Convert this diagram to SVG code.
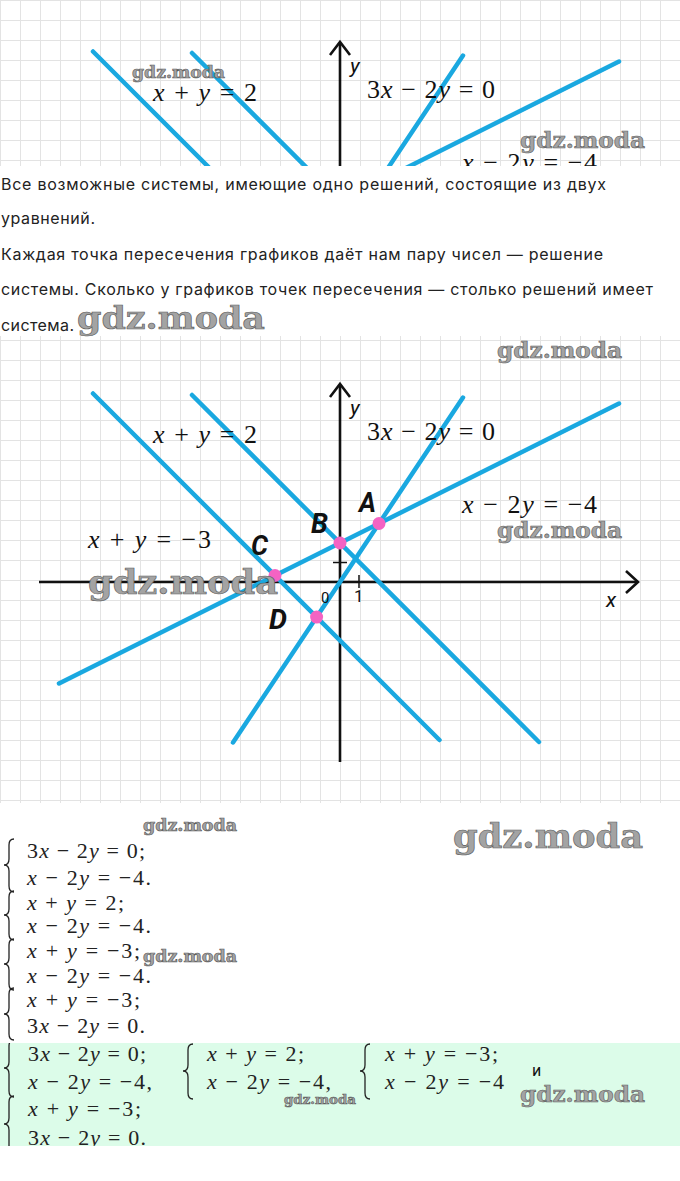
<svg xmlns="http://www.w3.org/2000/svg" xmlns:xlink="http://www.w3.org/1999/xlink" width="680" height="1181" viewBox="0 0 680 1181">
<style>
.ln{stroke:#1aa8e0;stroke-width:4.5;stroke-linecap:round;fill:none}
.ax{stroke:#111;stroke-width:2.6;fill:none}
.tk{stroke:#111;stroke-width:1.5}
.pt{fill:#f463c3}
.m{font-family:"Liberation Serif",serif;font-size:26px;fill:#111}
.e{font-family:"Liberation Serif",serif;font-size:22px;fill:#222}
.i{font-style:italic}
.pl{font-family:Roboto,"Liberation Sans",sans-serif;font-weight:700;font-style:italic;font-size:27px;fill:#111}
.al{font-family:Roboto,"Liberation Sans",sans-serif;fill:#111}
.p{font-family:Inter,Roboto,"Noto Sans",sans-serif;font-size:16px;fill:#222}
.wm{font-family:"DejaVu Serif",serif;font-weight:bold;fill:#a3a3a3;stroke:#5a5a5a;stroke-width:0.6}
.br{fill:none;stroke:#222;stroke-width:1.3}
</style>
<defs>
<pattern id="grid" width="20" height="20" patternUnits="userSpaceOnUse" x="0" y="0">
<path d="M0 0.5H20M0.5 0V20" stroke="#e3e3e3" stroke-width="1" fill="none"/>
</pattern>
<clipPath id="topclip"><rect x="0" y="0" width="680" height="166"/></clipPath>
<clipPath id="greenclip"><rect x="0" y="1043" width="680" height="103"/></clipPath>
<g id="plot">
<g class="ax">
<line x1="340" y1="762" x2="340" y2="385"/>
<polyline points="330,397 340,384 350,397"/>
<line x1="39" y1="582" x2="637" y2="582"/>
<polyline points="626,571 638,582 626,593"/>
</g>
<line class="tk" x1="359" y1="575" x2="359" y2="588"/>
<line class="tk" x1="333" y1="562.5" x2="347" y2="562.5"/>
<g class="ln">
<line x1="93" y1="393.5" x2="439.5" y2="740"/>
<line x1="192" y1="395" x2="539" y2="742"/>
<line x1="463" y1="397.5" x2="233" y2="742.5"/>
<line x1="619" y1="403.5" x2="59" y2="683.5"/>
</g>
<text class="m" x="153" y="443" textLength="104"><tspan class="i">x</tspan> + <tspan class="i">y</tspan> = 2</text>
<text class="m" x="88" y="548" textLength="123"><tspan class="i">x</tspan> + <tspan class="i">y</tspan> = −3</text>
<text class="m" x="367" y="440" textLength="128">3<tspan class="i">x</tspan> − 2<tspan class="i">y</tspan> = 0</text>
<text class="m" x="462" y="513" textLength="135"><tspan class="i">x</tspan> − 2<tspan class="i">y</tspan> = −4</text>
<text class="al i" x="350" y="415" font-size="21">y</text>
<text class="al i" x="606" y="607" font-size="21">x</text>
<text class="al" x="321" y="603" font-size="15">0</text>
<text class="al" x="354" y="602" font-size="17">1</text>
</g>
</defs>

<rect x="0" y="0" width="680" height="1181" fill="#fff"/>

<g id="top-graph" clip-path="url(#topclip)">
<rect x="0" y="0" width="680" height="166" fill="url(#grid)"/>
<use xlink:href="#plot" href="#plot" transform="translate(0,-342)"/>
</g>

<g id="paragraph">
<text class="p" x="1" y="190" textLength="605">Все возможные системы, имеющие одно решений, состоящие из двух</text>
<text class="p" x="1" y="224" textLength="94">уравнений.</text>
<text class="p" x="1" y="260" textLength="602">Каждая точка пересечения графиков даёт нам пару чисел — решение</text>
<text class="p" x="1" y="295" textLength="652">системы. Сколько у графиков точек пересечения — столько решений имеет</text>
<text class="p" x="1" y="331" textLength="73">система.</text>
</g>

<g id="main-graph">
<rect x="0" y="336" width="680" height="467" fill="url(#grid)"/>
<use xlink:href="#plot" href="#plot"/>
<g id="points">
<circle class="pt" cx="379" cy="523.5" r="6.5"/>
<circle class="pt" cx="340" cy="543" r="6.5"/>
<circle class="pt" cx="275" cy="575.5" r="6.5"/>
<circle class="pt" cx="316.6" cy="617.1" r="6.5"/>
</g>
<text class="pl" x="359" y="512" textLength="17" lengthAdjust="spacingAndGlyphs">A</text>
<text class="pl" x="311" y="533" textLength="17" lengthAdjust="spacingAndGlyphs">B</text>
<text class="pl" x="251" y="555" textLength="17" lengthAdjust="spacingAndGlyphs">C</text>
<text class="pl" x="269" y="629" textLength="18" lengthAdjust="spacingAndGlyphs">D</text>
</g>

<g id="systems">
<text class="e" x="27" y="858" textLength="118"><tspan>3</tspan><tspan class="i">x</tspan> − 2<tspan class="i">y</tspan> = 0;</text>
<text class="e" x="27" y="885" textLength="124"><tspan class="i">x</tspan> − 2<tspan class="i">y</tspan> = −4.</text>
<text class="e" x="27" y="910" textLength="97"><tspan class="i">x</tspan> + <tspan class="i">y</tspan> = 2;</text>
<text class="e" x="27" y="933" textLength="124"><tspan class="i">x</tspan> − 2<tspan class="i">y</tspan> = −4.</text>
<text class="e" x="27" y="958" textLength="113"><tspan class="i">x</tspan> + <tspan class="i">y</tspan> = −3;</text>
<text class="e" x="27" y="983" textLength="124"><tspan class="i">x</tspan> − 2<tspan class="i">y</tspan> = −4.</text>
<text class="e" x="27" y="1007" textLength="113"><tspan class="i">x</tspan> + <tspan class="i">y</tspan> = −3;</text>
<text class="e" x="27" y="1033" textLength="118">3<tspan class="i">x</tspan> − 2<tspan class="i">y</tspan> = 0.</text>
<path class="br" d="M14,839 Q9,839 9,845 L9,859 Q9,865 4,865 Q9,865 9,871 L9,886 Q9,892 14,892"/>
<path class="br" d="M14,891 Q9,891 9,897 L9,909 Q9,915 4,915 Q9,915 9,921 L9,934 Q9,940 14,940"/>
<path class="br" d="M14,939 Q9,939 9,945 L9,958 Q9,964 4,964 Q9,964 9,970 L9,984 Q9,990 14,990"/>
<path class="br" d="M14,988 Q9,988 9,994 L9,1008 Q9,1014 4,1014 Q9,1014 9,1020 L9,1034 Q9,1040 14,1040"/>
</g>

<g id="answer">
<rect x="0" y="1043" width="680" height="103" fill="#dcfce9"/>
<g clip-path="url(#greenclip)">
<text class="e" x="28" y="1061" textLength="118">3<tspan class="i">x</tspan> − 2<tspan class="i">y</tspan> = 0;</text>
<text class="e" x="28" y="1089" textLength="124"><tspan class="i">x</tspan> − 2<tspan class="i">y</tspan> = −4,</text>
<text class="e" x="28" y="1116" textLength="113"><tspan class="i">x</tspan> + <tspan class="i">y</tspan> = −3;</text>
<text class="e" x="28" y="1145" textLength="118">3<tspan class="i">x</tspan> − 2<tspan class="i">y</tspan> = 0.</text>
<path class="br" d="M14,1040 Q9,1040 9,1046 L9,1062 Q9,1068 4,1068 Q9,1068 9,1074 L9,1091 Q9,1097 14,1097"/>
<path class="br" d="M14,1096 Q9,1096 9,1102 L9,1118 Q9,1124 4,1124 Q9,1124 9,1130 L9,1146 Q9,1152 14,1152"/>
</g>
<text class="e" x="207" y="1061" textLength="97"><tspan class="i">x</tspan> + <tspan class="i">y</tspan> = 2;</text>
<text class="e" x="207" y="1089" textLength="124"><tspan class="i">x</tspan> − 2<tspan class="i">y</tspan> = −4,</text>
<path class="br" d="M193,1044 Q188,1044 188,1050 L188,1065 Q188,1071 183,1071 Q188,1071 188,1077 L188,1093 Q188,1099 193,1099"/>
<text class="e" x="385" y="1061" textLength="113"><tspan class="i">x</tspan> + <tspan class="i">y</tspan> = −3;</text>
<text class="e" x="385" y="1089" textLength="119"><tspan class="i">x</tspan> − 2<tspan class="i">y</tspan> = −4</text>
<path class="br" d="M370,1044 Q365,1044 365,1050 L365,1065 Q365,1071 360,1071 Q365,1071 365,1077 L365,1093 Q365,1099 370,1099"/>
<text class="al" x="532" y="1076" font-size="16">и</text>
</g>

<g id="watermarks">
<text class="wm" x="132" y="78" font-size="17" textLength="93" lengthAdjust="spacingAndGlyphs">gdz.moda</text>
<text class="wm" x="520" y="148" font-size="22" textLength="125" lengthAdjust="spacingAndGlyphs">gdz.moda</text>
<text class="wm" x="77" y="329" font-size="31" textLength="188" lengthAdjust="spacingAndGlyphs">gdz.moda</text>
<text class="wm" x="497" y="358" font-size="22" textLength="125" lengthAdjust="spacingAndGlyphs">gdz.moda</text>
<text class="wm" x="497" y="538" font-size="22" textLength="125" lengthAdjust="spacingAndGlyphs">gdz.moda</text>
<text class="wm" x="88" y="594" font-size="33" textLength="190" lengthAdjust="spacingAndGlyphs">gdz.moda</text>
<text class="wm" x="143" y="831" font-size="16" textLength="94" lengthAdjust="spacingAndGlyphs">gdz.moda</text>
<text class="wm" x="453" y="848" font-size="33" textLength="190" lengthAdjust="spacingAndGlyphs">gdz.moda</text>
<text class="wm" x="143" y="962" font-size="16" textLength="94" lengthAdjust="spacingAndGlyphs">gdz.moda</text>
<text class="wm" x="284" y="1104" font-size="13" textLength="72" lengthAdjust="spacingAndGlyphs">gdz.moda</text>
<text class="wm" x="520" y="1102" font-size="23" textLength="125" lengthAdjust="spacingAndGlyphs">gdz.moda</text>
</g>
</svg>
